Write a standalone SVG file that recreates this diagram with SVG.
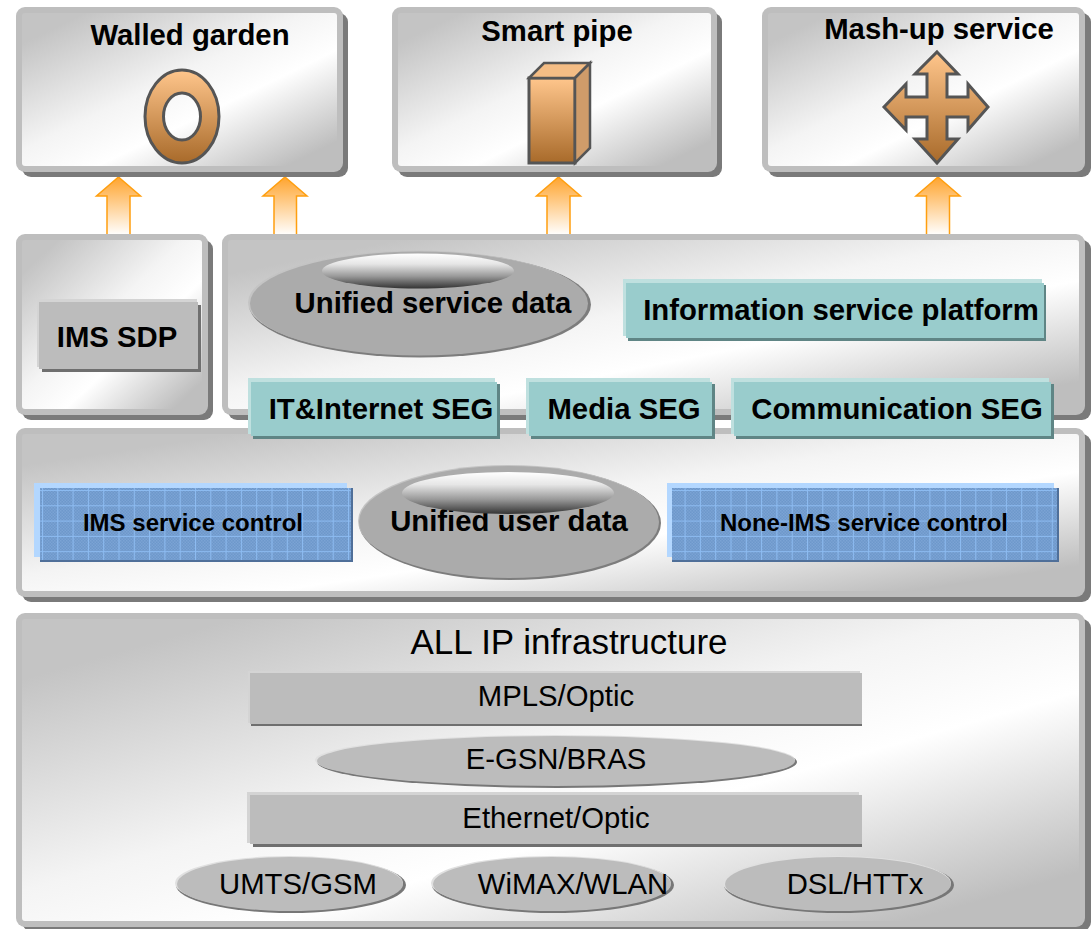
<svg xmlns="http://www.w3.org/2000/svg" width="1091" height="929" viewBox="0 0 1091 929">
<style>
text{font-family:"Liberation Sans",Arial,sans-serif;fill:#000;text-anchor:middle}
.b{font-weight:bold}
.t29{font-size:29.300px}.t24{font-size:24px}.t35{font-size:35px}
.pb{fill:#bebebe}.ps{fill:#7a7a7a}.pf{fill:url(#panel)}
.hl{fill:#d4d4d4}.gm{fill:#bcbcbc}.gs{fill:#6f6f6f}
.tl{fill:#bfe0df}.tm{fill:#99cccc}.ts{fill:#5f8585}
.bl{fill:#b3d7ff}.bx{fill:url(#tex)}.bm{fill:url(#grid)}.bs{fill:#4f6f99}
.arrow{fill:url(#arr);stroke:#ff9f0f;stroke-width:1.500}
.icon{fill:url(#copper);stroke:#555;stroke-width:3}
</style>
<defs>
<linearGradient id="panel" x1="0" y1="0" x2="1" y2="1">
<stop offset="0.1" stop-color="#c4c4c4"/><stop offset="0.45" stop-color="#f4f4f4"/><stop offset="0.62" stop-color="#fff"/><stop offset="0.92" stop-color="#bebebe"/>
</linearGradient>
<linearGradient id="arr" x1="0" y1="0" x2="0" y2="1">
<stop offset="0" stop-color="#ffa42e"/><stop offset="1" stop-color="#fff"/>
</linearGradient>
<linearGradient id="copper" x1="0" y1="0" x2="0" y2="1">
<stop offset="0" stop-color="#ffc68c"/><stop offset="1" stop-color="#a86a2a"/>
</linearGradient>
<linearGradient id="gloss" x1="0" y1="0" x2="0" y2="1">
<stop offset="0" stop-color="#fff"/><stop offset="0.3" stop-color="#e6e6e6"/><stop offset="0.65" stop-color="#999"/><stop offset="1" stop-color="#333"/>
</linearGradient>
<pattern id="tex" width="3" height="3" patternUnits="userSpaceOnUse">
<rect width="3" height="3" fill="#6d98cb"/>
<rect width="1.500" height="1.500" fill="#7ba3d4"/>
<rect x="1.500" y="1.500" width="1.500" height="1.500" fill="#7ba3d4"/>
</pattern>
<pattern id="grid" width="15.300" height="15.300" patternUnits="userSpaceOnUse" x="42" y="490">
<path d="M0 .5H15.300M.5 0V15.300" stroke="#8dbcf2" stroke-width="1" fill="none"/>
</pattern>
</defs>

<g id="connectors">
<path class="arrow" d="M118.500 177L140.500 196H130V235H107V196H96.500Z"/>
<path class="arrow" d="M285 177L307 196H296.500V235H274V196H263Z"/>
<path class="arrow" d="M558.500 177L580.500 196H570V235H547V196H536.500Z"/>
<path class="arrow" d="M938 177L960 196H949.500V235H926.500V196H916Z"/>
</g>

<g id="walled-garden">
<rect class="ps" x="22" y="13" width="326" height="164" rx="9"/>
<rect class="pb" x="16" y="7" width="327" height="165" rx="9"/>
<rect class="pf" x="22" y="13" width="315" height="153" rx="3"/>
<text class="b t29" x="190" y="45">Walled garden</text>
<path fill-rule="evenodd" class="icon" d="M145 116.500a37 46.500 0 1 0 74 0a37 46.500 0 1 0 -74 0ZM163.500 116.500a18.500 23.500 0 1 1 37 0a18.500 23.500 0 1 1 -37 0Z"/>
</g>

<g id="smart-pipe">
<rect class="ps" x="398" y="13" width="324" height="164" rx="9"/>
<rect class="pb" x="392" y="7" width="325" height="165" rx="9"/>
<rect class="pf" x="398" y="13" width="313" height="153" rx="3"/>
<text class="b t29" x="557" y="41">Smart pipe</text>
<path class="icon" d="M529 78H575V163H529Z"/>
<path d="M529 78L544 63H590L575 78Z" fill="#f4bd85" stroke="#555" stroke-width="2.500"/>
<path d="M575 78L590 63V148L575 163Z" fill="#cf9c6a" stroke="#555" stroke-width="2.500"/>
</g>

<g id="mash-up-service">
<rect class="ps" x="768" y="13" width="323" height="164" rx="9"/>
<rect class="pb" x="762" y="7" width="323" height="165" rx="9"/>
<rect class="pf" x="768" y="13" width="311" height="153" rx="3"/>
<text class="b t29" x="939" y="39">Mash-up service</text>
<path class="icon" d="M937 52L958 74H947V97H968V84L988 107L968 130V117H947V139H958L937 163L915 139H927V117H906V130L884 107L906 84V97H927V74H915Z"/>
</g>

<g id="ims-sdp-panel">
<rect class="ps" x="22" y="240" width="191" height="180" rx="9"/>
<rect class="pb" x="16" y="234" width="192" height="181" rx="9"/>
<rect class="pf" x="22" y="240" width="180" height="169" rx="3"/>
</g>
<g id="ims-sdp">
<rect class="gs" x="42" y="305" width="159" height="67"/>
<rect class="hl" x="37" y="299" width="160" height="68"/>
<rect class="gm" x="39" y="302" width="159" height="67"/>
<text class="b t29" x="117" y="347">IMS SDP</text>
</g>

<g id="service-panel">
<rect class="ps" x="228" y="240" width="863" height="180" rx="9"/>
<rect class="pb" x="222" y="234" width="863" height="181" rx="9"/>
<rect class="pf" x="228" y="240" width="851" height="169" rx="3"/>
</g>
<g id="unified-service-data">
<ellipse cx="420" cy="304.500" rx="171" ry="53" fill="#7d7d7d"/>
<ellipse cx="417" cy="302.500" rx="169" ry="52" fill="#c4c4c4"/>
<ellipse cx="419" cy="303.500" rx="169" ry="52" fill="#ababab"/>
<ellipse cx="418" cy="271" rx="96" ry="17.500" fill="url(#gloss)"/>
<text class="b t29" x="433" y="313">Unified service data</text>
</g>
<g id="information-service-platform">
<rect class="ts" x="628" y="285" width="418" height="56"/>
<rect class="tl" x="623" y="279" width="419" height="57"/>
<rect class="tm" x="626" y="283" width="418" height="55"/>
<text class="b t29" x="841" y="320">Information service platform</text>
</g>

<g id="core-panel">
<rect class="ps" x="22" y="434" width="1069" height="168" rx="9"/>
<rect class="pb" x="16" y="428" width="1069" height="169" rx="9"/>
<rect class="pf" x="22" y="434" width="1057" height="157" rx="3"/>
</g>

<g id="it-internet-seg">
<rect class="ts" x="253" y="384" width="247" height="55"/>
<rect class="tl" x="248" y="378" width="247" height="56"/>
<rect class="tm" x="251" y="382" width="246" height="54"/>
<text class="b t29" x="381" y="419">IT&amp;Internet SEG</text>
</g>
<g id="media-seg">
<rect class="ts" x="531" y="384" width="184" height="55"/>
<rect class="tl" x="526" y="378" width="184" height="56"/>
<rect class="tm" x="529" y="382" width="183" height="54"/>
<text class="b t29" x="624" y="419">Media SEG</text>
</g>
<g id="communication-seg">
<rect class="ts" x="736" y="384" width="318" height="55"/>
<rect class="tl" x="731" y="378" width="318" height="56"/>
<rect class="tm" x="734" y="382" width="317" height="54"/>
<text class="b t29" x="897" y="419">Communication SEG</text>
</g>

<g id="ims-service-control">
<rect class="bl" x="34" y="483" width="313" height="74"/>
<rect class="bs" x="40" y="488" width="313" height="74"/>
<rect class="bx" x="40" y="488" width="311" height="72"/>
<rect class="bm" x="40" y="488" width="311" height="72"/>
<text class="b t24" x="193" y="531">IMS service control</text>
</g>
<g id="unified-user-data">
<ellipse cx="510" cy="523" rx="151" ry="57" fill="#7d7d7d"/>
<ellipse cx="508" cy="521" rx="150" ry="56" fill="#c4c4c4"/>
<ellipse cx="509" cy="522" rx="150" ry="56" fill="#ababab"/>
<text class="b t29" x="509" y="531">Unified user data</text>
<ellipse cx="508" cy="493" rx="106" ry="21" fill="url(#gloss)"/>
</g>
<g id="none-ims-service-control">
<rect class="bl" x="667" y="483" width="387" height="74"/>
<rect class="bs" x="672" y="488" width="387" height="74"/>
<rect class="bx" x="672" y="488" width="385" height="72"/>
<rect class="bm" x="672" y="488" width="385" height="72"/>
<text class="b t24" x="864" y="531">None-IMS service control</text>
</g>

<g id="all-ip-infrastructure">
<rect class="ps" x="22" y="619" width="1069" height="312" rx="9"/>
<rect class="pb" x="16" y="613" width="1069" height="314" rx="9"/>
<rect class="pf" x="22" y="619" width="1057" height="302" rx="3"/>
<text class="t35" x="569" y="654">ALL IP infrastructure</text>
</g>
<g id="mpls-optic">
<rect class="gs" x="251" y="676" width="611" height="50"/>
<rect class="hl" x="248" y="671" width="612" height="52"/>
<rect class="gm" x="250" y="673" width="612" height="51"/>
<text class="t29" x="556" y="706">MPLS/Optic</text>
</g>
<g id="e-gsn-bras">
<ellipse cx="557" cy="762" rx="240" ry="26" fill="#777"/>
<ellipse cx="555" cy="760" rx="240" ry="25" fill="#e0e0e0"/>
<ellipse cx="556" cy="761" rx="239" ry="25" fill="#bcbcbc"/>
<text class="t29" x="556" y="769">E-GSN/BRAS</text>
</g>
<g id="ethernet-optic">
<rect class="gs" x="253" y="798" width="609" height="49"/>
<rect class="hl" x="247" y="792" width="612" height="51"/>
<rect class="gm" x="250" y="795" width="612" height="49"/>
<text class="t29" x="556" y="828">Ethernet/Optic</text>
</g>
<g id="umts-gsm">
<ellipse cx="291" cy="885" rx="115" ry="28" fill="#777"/>
<ellipse cx="289" cy="883" rx="114" ry="27" fill="#e0e0e0"/>
<ellipse cx="290" cy="884" rx="113" ry="27" fill="#bcbcbc"/>
<text class="t29" x="298" y="894">UMTS/GSM</text>
</g>
<g id="wimax-wlan">
<ellipse cx="553" cy="885" rx="121" ry="28" fill="#777"/>
<ellipse cx="551" cy="883" rx="120" ry="27" fill="#e0e0e0"/>
<ellipse cx="552" cy="884" rx="119" ry="27" fill="#bcbcbc"/>
<text class="t29" x="573" y="894">WiMAX/WLAN</text>
</g>
<g id="dsl-httx">
<ellipse cx="839" cy="885" rx="115" ry="28" fill="#777"/>
<ellipse cx="837" cy="883" rx="114" ry="27" fill="#e0e0e0"/>
<ellipse cx="838" cy="884" rx="113" ry="27" fill="#bcbcbc"/>
<text class="t29" x="855" y="894">DSL/HTTx</text>
</g>
</svg>
